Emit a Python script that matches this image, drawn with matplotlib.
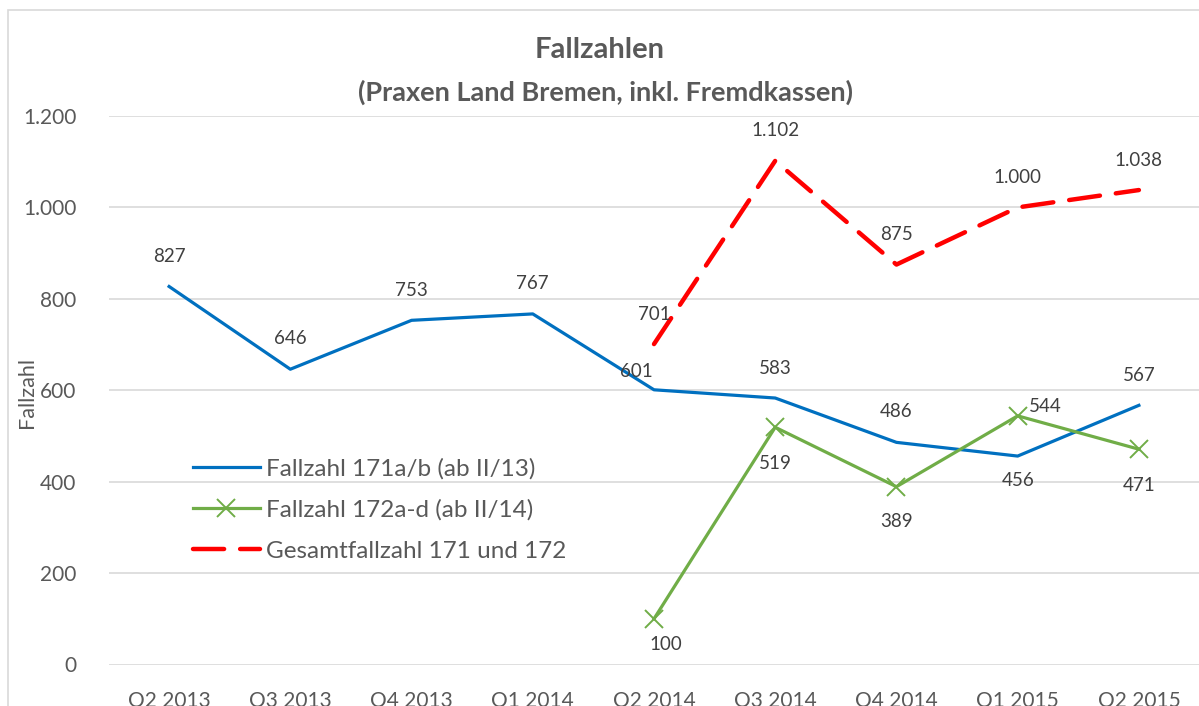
import matplotlib
matplotlib.use("Agg")
import matplotlib.pyplot as plt
import numpy as np
from matplotlib.patches import Rectangle

categories = ["Q2 2013", "Q3 2013", "Q4 2013", "Q1 2014", "Q2 2014",
              "Q3 2014", "Q4 2014", "Q1 2015", "Q2 2015"]
fall_171 = [827, 646, 753, 767, 601, 583, 486, 456, 567]
fall_172 = [None, None, None, None, 100, 519, 389, 544, 471]
gesamt = [None, None, None, None, 701, 1102, 875, 1000, 1038]
yticks = [0, 200, 400, 600, 800, 1000, 1200]
series_names = ["Fallzahl 171a/b (ab II/13)", "Fallzahl 172a-d (ab II/14)",
                "Gesamtfallzahl 171 und 172"]

def de_fmt(v):
    return f"{v:,.0f}".replace(",", ".")

plt.rcParams['font.family'] = ['Lato', 'DejaVu Sans']
TXT = "#595959"
W, H = 1199, 706
fig = plt.figure(figsize=(W / 100, H / 100), dpi=100)
fig.patches.append(Rectangle((8 / W, -0.1), 1.2, 1 - 10 / H + 0.1,
                             transform=fig.transFigure, fill=False,
                             edgecolor="#D9D9D9", linewidth=1.2))

left, right, top, bottom = 108.5, 1199.5, 116, 664.5
ax = fig.add_axes([left / W, 1 - bottom / H, (right - left) / W, (bottom - top) / H])
x = np.arange(len(categories))

def arr(v):
    return np.array([np.nan if a is None else a for a in v], dtype=float)

b = arr(fall_171); g = arr(fall_172); r = arr(gesamt)
ax.plot(x, b, color="#0070C0", lw=2.3, label=series_names[0], zorder=3)
ax.plot(x, g, color="#70AD47", lw=2.3, marker="x", markersize=13,
        markeredgewidth=1.4, label=series_names[1], zorder=3)
ax.plot(x, r, color="#FF0000", lw=3.2, linestyle=(0, (7.0, 3.6)),
        dash_capstyle="round", label=series_names[2], zorder=3)

ax.set_xlim(-0.5, len(categories) - 0.5)
ax.set_ylim(0, 1200)
ax.set_yticks(yticks)
ax.set_yticklabels([de_fmt(v) for v in yticks])
ax.set_xticks(x)
ax.set_xticklabels(categories)
ax.grid(axis="y", color="#D9D9D9", lw=1.2)
ax.set_axisbelow(True)
for s in ax.spines.values():
    s.set_visible(False)
ax.tick_params(axis="both", length=0, colors=TXT, labelsize=15)
ax.tick_params(axis="x", pad=19)
ax.tick_params(axis="y", pad=23)
ax.set_ylabel("Fallzahl", color=TXT, fontsize=15.5, va="center")
ax.yaxis.set_label_coords(-(left - 27) / (right - left), (bottom - 392) / (bottom - top))

def lab(xi, val, dx, dy, ha="center"):
    ax.annotate(de_fmt(val), (xi, val), xytext=(dx, dy), textcoords="offset pixels",
                ha=ha, va="center", fontsize=13.5, color="#404040", annotation_clip=False)

blue_off = [(0, 30), (0, 31), (0, 30), (0, 30), (-18, 18), (0, 30), (0, 31), (0, -24), (0, 30)]
for i, v in enumerate(fall_171):
    lab(i, v, *blue_off[i])
green_off = {4: (12, -26), 5: (0, -36), 6: (0, -35), 7: (28, 9), 8: (0, -36)}
for i, v in enumerate(fall_172):
    if v is not None:
        lab(i, v, *green_off[i])
for i, v in enumerate(gesamt):
    if v is not None:
        lab(i, v, 0, 30)

leg = ax.legend(loc="upper left", bbox_to_anchor=((193 - left) / (right - left), (bottom - 458) / (bottom - top)),
                frameon=False, fontsize=17.5, handlelength=2.75, handletextpad=0.25,
                labelspacing=0.82, labelcolor=TXT, borderaxespad=0, borderpad=0)

fig.text(0.5, 1 - 50 / H, "Fallzahlen", ha="center", va="center",
         fontsize=21, fontweight="bold", color=TXT)
fig.text(0.505, 1 - 92 / H, "(Praxen Land Bremen, inkl. Fremdkassen)",
         ha="center", va="center", fontsize=19.5, fontweight="bold", color=TXT)

fig.savefig("out.png", dpi=100)
